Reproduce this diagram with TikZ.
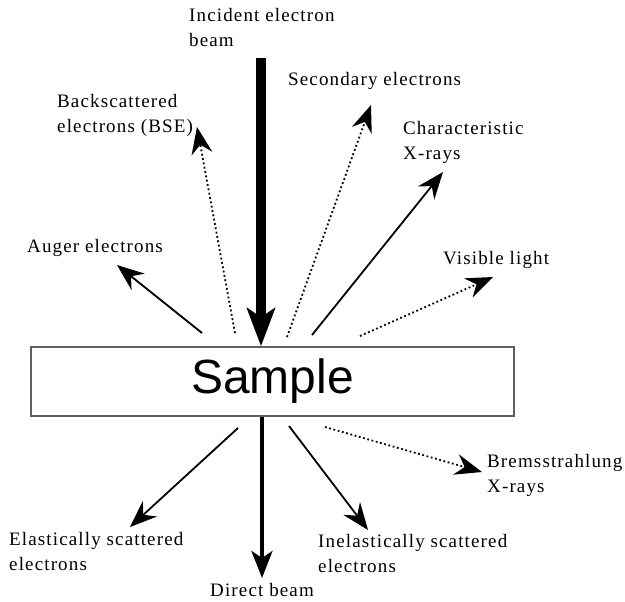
\documentclass[tikz,border=0pt]{standalone}
\usepackage{fontspec}
\newfontfamily\labelfont{Liberation Serif}[LetterSpace=6]
\newfontfamily\samplefont{Liberation Sans}
\usepackage{tikz}
\usetikzlibrary{positioning, arrows.meta}
\definecolor{ink}{RGB}{0,0,0}
\definecolor{frame}{RGB}{95,95,95}
\tikzset{
  samplebox/.style={draw=frame,line width=1.6pt,minimum width=483pt,
    minimum height=69pt,inner sep=0pt,
    font=\samplefont\fontsize{48}{48}\selectfont},
  lbl/.style={font=\labelfont\fontsize{19}{25}\selectfont,align=left,
    inner sep=0pt,anchor=base west,text=ink},
  arr/.style={-{Stealth[length=27pt,width=21pt,inset=9pt]},line width=1.8pt,ink},
  dotarr/.style={arr,dash pattern=on 1.8pt off 2.6pt},
  beam/.style={-{Stealth[length=38pt,width=28pt,inset=9pt]},line width=10pt,ink},
  direct/.style={-{Stealth[length=27pt,width=21pt,inset=7pt]},line width=4pt,ink},
}
\begin{document}
\begin{tikzpicture}[x=1pt,y=-1pt]
  \useasboundingbox (0,0) rectangle (625,602);
  \node[samplebox] (sample) at (272.5,381.5) {Sample};

  % labels (placed at the baseline of their last line)
  \node[lbl] (incident) at (189,47) {Incident electron\\beam};
  \node[lbl] (secondary) at (288,86) {Secondary electrons};
  \node[lbl] (bse) at (57,133) {Backscattered\\electrons (BSE)};
  \node[lbl] (charx) at (403,160) {Characteristic\\X-rays};
  \node[lbl] (auger) at (27,252) {Auger electrons};
  \node[lbl] (visible) at (443,264) {Visible light};
  \node[lbl] (brems) at (487,492) {Bremsstrahlung\\X-rays};
  \node[lbl] (elastic) at (9,570) {Elastically scattered\\electrons};
  \node[lbl] (inelastic) at (318,572) {Inelastically scattered\\electrons};
  \node[lbl] (directlbl) at (210,596) {Direct beam};

  % arrow ends
  \coordinate (inctail) at (261,58);
  \coordinate (bsetail) at (235,333);  \coordinate (bsetip) at (197,127);
  \coordinate (augtail) at (202,333);  \coordinate (augtip) at (117,265);
  \coordinate (sectail) at (287,337);  \coordinate (sectip) at (371,105);
  \coordinate (chartail) at (312,335); \coordinate (chartip) at (443,172);
  \coordinate (vistail) at (360,336);  \coordinate (vistip) at (493,277);
  \coordinate (dirtip) at (262,578);
  \coordinate (eltail) at (238,428);   \coordinate (eltip) at (130,527);
  \coordinate (ineltail) at (289,426); \coordinate (ineltip) at (368,530);
  \coordinate (bremtail) at (325,427); \coordinate (bremtip) at (482,472);

  \draw[beam] (inctail) -- (inctail |- sample.north);
  \draw[dotarr] (bsetail) -- (bsetip);
  \draw[arr] (augtail) -- (augtip);
  \draw[dotarr] (sectail) -- (sectip);
  \draw[arr] (chartail) -- (chartip);
  \draw[dotarr] (vistail) -- (vistip);
  \draw[direct] (sample.south -| dirtip) -- (dirtip);
  \draw[arr] (eltail) -- (eltip);
  \draw[arr] (ineltail) -- (ineltip);
  \draw[dotarr] (bremtail) -- (bremtip);
\end{tikzpicture}
\end{document}
